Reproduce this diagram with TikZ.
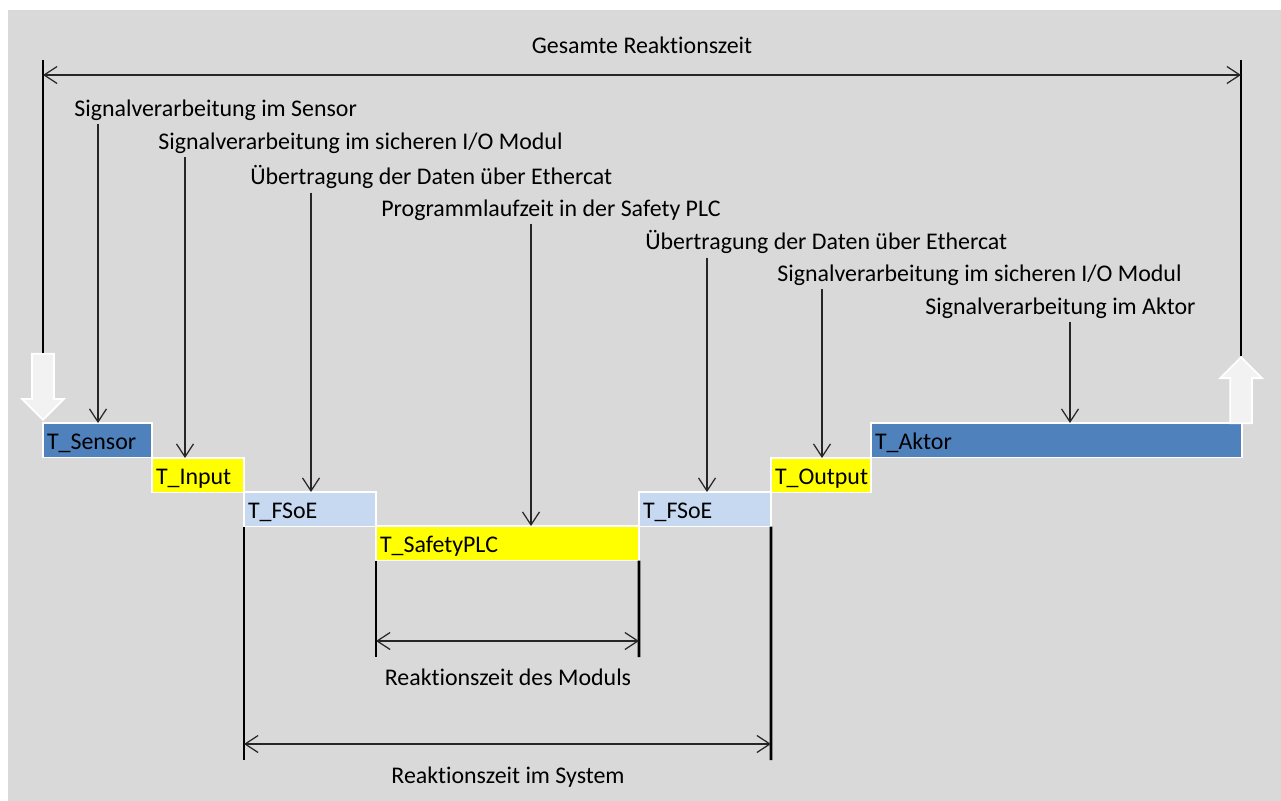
\documentclass[tikz,border=0pt]{standalone}
\usepackage{fontspec}
\setmainfont{Carlito}[Ligatures=NoCommon]
\usetikzlibrary{arrows.meta,shapes.arrows}

\definecolor{hintergrund}{HTML}{D9D9D9}
\definecolor{sensorblau}{HTML}{4F81BD}
\definecolor{hellblau}{HTML}{C6D9F1}
\definecolor{signalgelb}{HTML}{FFFF00}
\definecolor{pfeilgrau}{HTML}{F2F2F2}
\definecolor{linie}{HTML}{262626}

\begin{document}
\begin{tikzpicture}[x=0.02cm, y=-0.02cm,
    font=\fontsize{13.6}{16}\selectfont,
    zeit/.style ={draw=white, line width=1.1pt, anchor=north west, outer sep=0pt,
                  minimum height=0.69cm, inner xsep=0.08cm, inner ysep=0pt, align=left,
                  text height=13pt, text depth=3pt},
    beschriftung/.style ={anchor=west, inner sep=0pt},
    hinweis/.style ={draw=linie, line width=0.7pt, -{Straight Barb[length=0.26cm,width=0.34cm]}},
    massband/.style ={draw=linie, line width=0.7pt,
                  {Straight Barb[length=0.26cm,width=0.34cm]}-{Straight Barb[length=0.26cm,width=0.34cm]}},
    grenze/.style ={line width=1.5pt},
    blockpfeil/.style ={single arrow, draw=white, fill=pfeilgrau, line width=1pt, inner sep=0.2cm,
                  minimum height=1.32cm, single arrow head extend=0.2cm, anchor=tip}]
   \useasboundingbox (0,0) rectangle (1281,801);
   \fill[white] (0,0) rectangle (1281,801);
   \fill[hintergrund] (8,10) rectangle (1281,801);

   % Zeitabschnitte
   \node[zeit, fill=sensorblau, text width=2.02cm] (sensor) at (43,423) {T\_Sensor};
   \node[zeit, fill=signalgelb, text width=1.68cm] (input) at (152,458) {T\_Input};
   \node[zeit, fill=hellblau, text width=2.48cm] (fsoeA) at (244,492) {T\_FSoE};
   \node[zeit, fill=signalgelb, text width=5.10cm] (sps) at (376,526) {T\_SafetyPLC};
   \node[zeit, fill=hellblau, text width=2.48cm] (fsoeB) at (639,492) {T\_FSoE};
   \node[zeit, fill=signalgelb, text width=1.84cm] (output) at (771,458) {T\_Output};
   \node[zeit, fill=sensorblau, text width=7.26cm] (aktor) at (871,423) {T\_Aktor};

   % Beschriftungen
   \node[beschriftung] (lblSensor) at (74,110) {Signalverarbeitung im Sensor};
   \node[beschriftung] (lblInput) at (158,143) {Signalverarbeitung im sicheren I/O Modul};
   \node[beschriftung] (lblFsoeA) at (250,177) {Übertragung der Daten über Ethercat};
   \node[beschriftung] (lblSps) at (381,210) {Programmlaufzeit in der Safety PLC};
   \node[beschriftung] (lblFsoeB) at (645,242) {Übertragung der Daten über Ethercat};
   \node[beschriftung] (lblOutput) at (777,275) {Signalverarbeitung im sicheren I/O Modul};
   \node[beschriftung] (lblAktor) at (925,308) {Signalverarbeitung im Aktor};

   \coordinate (zielSensor) at (98,423);
   \coordinate (zielInput) at (185,458);
   \coordinate (zielFsoeA) at (311,492);
   \coordinate (zielSps) at (531,526);
   \coordinate (zielFsoeB) at (707,492);
   \coordinate (zielOutput) at (822,458);
   \coordinate (zielAktor) at (1070,423);

   \draw[hinweis] ([yshift=-2pt]lblSensor.south -| zielSensor) -- (zielSensor);
   \draw[hinweis] ([yshift=-2pt]lblInput.south -| zielInput) -- (zielInput);
   \draw[hinweis] ([yshift=-2pt]lblFsoeA.south -| zielFsoeA) -- (zielFsoeA);
   \draw[hinweis] ([yshift=-2pt]lblSps.south -| zielSps) -- (zielSps);
   \draw[hinweis] ([yshift=-2pt]lblFsoeB.south -| zielFsoeB) -- (zielFsoeB);
   \draw[hinweis] ([yshift=-2pt]lblOutput.south -| zielOutput) -- (zielOutput);
   \draw[hinweis] ([yshift=-2pt]lblAktor.south -| zielAktor) -- (zielAktor);

   % Gesamte Reaktionszeit
   \node[blockpfeil, shape border rotate=270] (eingang) at (43,421) {};
   \node[blockpfeil, shape border rotate=90] (ausgang) at (1241,356) {};
   \coordinate (gesamtL) at (43,60);
   \coordinate (gesamtR) at (1241,60);
   \coordinate (gesamtPL) at (43,75);
   \coordinate (gesamtPR) at (1241,75);
   \draw[grenze] (gesamtL) -- (eingang.tail);
   \draw[grenze] (gesamtR) -- (ausgang.tip);
   \draw[massband] (gesamtPL) -- (gesamtPR);
   \node (gesamt) at (642,45) {Gesamte Reaktionszeit};

   % Reaktionszeit des Moduls
   \coordinate (modulL) at (376,657);
   \coordinate (modulR) at (639,657);
   \coordinate (modulPL) at (376,641);
   \coordinate (modulPR) at (639,641);
   \draw[grenze] (sps.south west) -- (modulL);
   \draw[grenze] (sps.south east) -- (modulR);
   \draw[massband] (modulPL) -- (modulPR);
   \node (modul) at (508,677) {Reaktionszeit des Moduls};

   % Reaktionszeit im System
   \coordinate (systemL) at (244,760);
   \coordinate (systemR) at (771,760);
   \coordinate (systemPL) at (244,744);
   \coordinate (systemPR) at (771,744);
   \draw[grenze] (fsoeA.south west) -- (systemL);
   \draw[grenze] (fsoeB.south east) -- (systemR);
   \draw[massband] (systemPL) -- (systemPR);
   \node (system) at (508,777) {Reaktionszeit im System};
\end{tikzpicture}
\end{document}
